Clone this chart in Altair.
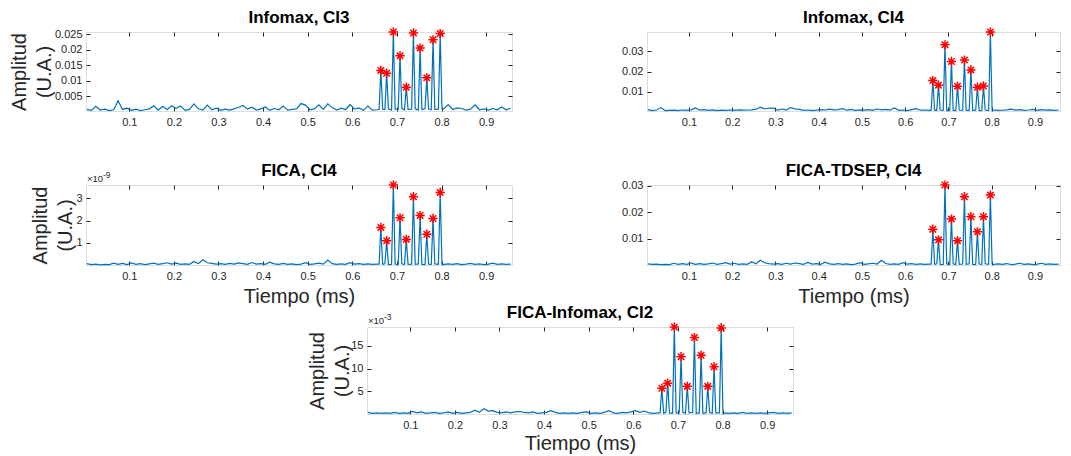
import altair as alt
import pandas as pd

FONT = "Liberation Sans"
BLUE = "#0072BD"
RED = "#FF0000"
AXC = "#262626"
STAR = "M-1,0L1,0M0,-1L0,1M-0.7,-0.7L0.7,0.7M-0.7,0.7L0.7,-0.7"

X_DOMAIN = [0.003, 0.958]
X_TICKS = [0.1, 0.2, 0.3, 0.4, 0.5, 0.6, 0.7, 0.8, 0.9]

# sampling instants of the background (outside the burst), ms
T_NOISE = [0.005, 0.015, 0.025, 0.035, 0.045, 0.055, 0.065, 0.075, 0.085, 0.095,
           0.105, 0.115, 0.125, 0.135, 0.145, 0.155, 0.165, 0.175, 0.185, 0.195,
           0.205, 0.215, 0.225, 0.235, 0.245, 0.255, 0.265, 0.275, 0.285, 0.295,
           0.305, 0.315, 0.325, 0.335, 0.345, 0.355, 0.365, 0.375, 0.385, 0.395,
           0.405, 0.415, 0.425, 0.435, 0.445, 0.455, 0.465, 0.475, 0.485, 0.495,
           0.505, 0.515, 0.525, 0.535, 0.545, 0.555, 0.565, 0.575, 0.585, 0.595,
           0.605, 0.615, 0.625, 0.635, 0.645, 0.655,
           0.805, 0.815, 0.825, 0.835, 0.845, 0.855, 0.865, 0.875, 0.885, 0.895,
           0.905, 0.915, 0.925, 0.935, 0.945, 0.955]
# valleys around each burst peak, ms
T_VALLEY = [0.660, 0.668, 0.673, 0.681, 0.688, 0.696, 0.703, 0.711, 0.717, 0.725,
            0.733, 0.741, 0.748, 0.756, 0.763, 0.771, 0.777, 0.785, 0.793, 0.801]
# detected peaks, ms
T_PEAK = [0.664, 0.677, 0.692, 0.707, 0.721, 0.737, 0.752, 0.767, 0.781, 0.797]

# ---- Infomax, CI3 (values x1e-3) ----
P1_NOISE = [0.8, 0.5, 1.8, 0.6, 0.9, 0.4, 0.7, 3.6, 0.8, 1.2,
            0.5, 0.9, 0.4, 0.7, 1.0, 2.0, 0.6, 1.8, 0.7, 2.0,
            1.2, 1.9, 0.5, 0.8, 2.6, 1.0, 0.6, 2.2, 0.7, 1.2,
            0.5, 0.9, 0.6, 1.0, 1.5, 2.1, 0.9, 1.5, 0.6, 1.0,
            1.6, 0.5, 1.1, 0.7, 1.9, 0.6, 0.8, 1.0, 2.7, 2.2,
            0.7, 1.0, 2.3, 0.8, 2.6, 1.4, 0.6, 1.2, 0.7, 2.4,
            0.9, 1.3, 0.5, 1.9, 0.6, 0.7,
            1.0, 2.4, 0.8, 1.3, 1.1, 0.6, 0.9, 2.3, 0.7, 1.0,
            0.6, 1.1, 0.7, 1.6, 0.7, 1.2]
P1_VALLEY = [0.8, 0.9, 0.7, 1.0, 0.6, 0.9, 0.8, 1.1, 0.7, 0.8,
             0.9, 1.0, 0.6, 0.8, 1.0, 0.9, 0.7, 0.8, 0.9, 1.2]
P1_PEAK = [13.4, 12.5, 25.8, 18.1, 8.0, 25.5, 20.6, 11.0, 23.3, 25.3]

# ---- Infomax, CI4 (values x1e-3) ----
P2_NOISE = [1.0, 0.5, 0.8, 2.0, 0.5, 0.6, 0.7, 0.5, 0.8, 0.6,
            0.9, 1.8, 0.7, 1.0, 0.6, 0.9, 0.5, 0.7, 0.6, 0.8,
            0.6, 0.9, 0.7, 0.8, 0.9, 1.2, 2.2, 1.3, 1.8, 1.7,
            0.7, 1.3, 0.8, 2.0, 1.4, 1.1, 0.6, 0.8, 0.5, 0.7,
            1.0, 0.8, 1.2, 0.9, 1.0, 1.5, 0.7, 1.1, 0.6, 0.9,
            0.7, 1.0, 0.6, 1.3, 0.9, 1.1, 0.7, 1.8, 0.6, 0.8,
            0.5, 1.0, 1.5, 0.7, 0.8, 0.6,
            0.8, 0.6, 0.7, 0.9, 1.2, 0.7, 1.0, 0.6, 0.8, 1.1,
            0.6, 1.0, 0.7, 0.9, 0.6, 0.8]
P2_VALLEY = [0.6, 0.7, 0.5, 0.8, 0.6, 0.5, 0.7, 0.6, 0.5, 0.8,
             0.6, 0.7, 0.5, 0.6, 0.7, 0.5, 0.6, 0.8, 0.5, 0.7]
P2_PEAK = [15.5, 13.2, 33.3, 25.0, 12.7, 25.7, 20.8, 12.2, 12.8, 39.7]

# ---- FICA, CI4 (values x1e-9) ----
P3_NOISE = [0.08, 0.04, 0.06, 0.03, 0.05, 0.04, 0.10, 0.05, 0.09, 0.04,
            0.11, 0.05, 0.08, 0.04, 0.07, 0.10, 0.05, 0.08, 0.12, 0.06,
            0.10, 0.05, 0.07, 0.05, 0.18, 0.08, 0.25, 0.12, 0.09, 0.06,
            0.08, 0.05, 0.09, 0.06, 0.11, 0.08, 0.05, 0.13, 0.06, 0.08,
            0.05, 0.15, 0.07, 0.05, 0.09, 0.05, 0.07, 0.04, 0.06, 0.12,
            0.05, 0.07, 0.10, 0.06, 0.24, 0.08, 0.05, 0.07, 0.05, 0.12,
            0.06, 0.08, 0.05, 0.07, 0.05, 0.06,
            0.05, 0.07, 0.05, 0.08, 0.04, 0.06, 0.09, 0.05, 0.07, 0.04,
            0.06, 0.10, 0.05, 0.07, 0.05, 0.06]
P3_VALLEY = [0.06, 0.05, 0.07, 0.04, 0.05, 0.06, 0.05, 0.07, 0.04, 0.05,
             0.06, 0.05, 0.07, 0.05, 0.04, 0.06, 0.05, 0.07, 0.05, 0.06]
P3_PEAK = [1.69, 1.10, 3.58, 2.12, 1.16, 3.06, 2.22, 1.39, 2.09, 3.25]

# ---- FICA-TDSEP, CI4 (values x1e-3) ----
P4_NOISE = [0.6, 0.4, 0.5, 0.3, 0.4, 0.3, 0.8, 0.4, 0.7, 0.4,
            0.9, 0.4, 0.7, 0.4, 0.6, 0.9, 0.4, 0.7, 1.0, 0.5,
            0.8, 0.4, 0.6, 0.4, 1.4, 0.6, 1.9, 1.0, 0.7, 0.5,
            0.7, 0.4, 0.8, 0.5, 0.9, 0.7, 0.4, 1.1, 0.5, 0.7,
            0.4, 1.2, 0.6, 0.4, 0.7, 0.4, 0.6, 0.3, 0.5, 1.0,
            0.4, 0.6, 0.8, 0.5, 1.9, 0.7, 0.4, 0.6, 0.4, 1.0,
            0.5, 0.7, 0.4, 0.6, 0.4, 0.5,
            0.4, 0.6, 0.4, 0.7, 0.3, 0.5, 0.8, 0.4, 0.6, 0.3,
            0.5, 0.8, 0.4, 0.6, 0.4, 0.5]
P4_VALLEY = [0.5, 0.4, 0.6, 0.3, 0.4, 0.5, 0.4, 0.6, 0.3, 0.4,
             0.5, 0.4, 0.6, 0.4, 0.3, 0.5, 0.4, 0.6, 0.4, 0.5]
P4_PEAK = [13.6, 9.6, 30.2, 17.4, 9.3, 25.8, 18.3, 12.6, 18.3, 26.4]

# ---- FICA-Infomax, CI2 (values x1e-3) ----
P5_NOISE = [0.4, 0.2, 0.3, 0.2, 0.3, 0.2, 0.4, 0.2, 0.3, 0.2,
            0.6, 0.3, 0.5, 0.2, 0.3, 0.4, 0.2, 0.3, 0.5, 0.2,
            0.4, 0.2, 0.3, 0.4, 0.9, 0.4, 1.2, 0.7, 0.8, 0.4,
            0.3, 0.5, 0.3, 0.5, 0.6, 0.4, 0.3, 0.5, 0.2, 0.3,
            0.4, 0.8, 0.4, 0.2, 0.3, 0.2, 0.3, 0.2, 0.4, 0.5,
            0.2, 0.3, 0.2, 0.4, 0.8, 0.3, 0.2, 0.4, 0.3, 0.5,
            0.8, 0.4, 0.7, 0.3, 0.2, 0.3,
            0.3, 0.2, 0.3, 0.2, 0.4, 0.2, 0.3, 0.2, 0.3, 0.2,
            0.3, 0.4, 0.2, 0.3, 0.2, 0.3]
P5_VALLEY = [0.3, 0.2, 0.4, 0.3, 0.2, 0.3, 0.3, 0.4, 0.2, 0.3,
             0.4, 0.2, 0.3, 0.2, 0.3, 0.4, 0.2, 0.3, 0.3, 0.2]
P5_PEAK = [5.7, 6.8, 19.1, 12.6, 6.1, 16.8, 12.9, 6.1, 10.4, 18.9]

Y_TITLE = ["Amplitud", "(U.A.)"]
X_TITLE = "Tiempo (ms)"


def panel(title, noise, valley, peak, unit, ydom, yticks, w, h,
          ytitle_x=None, xtitle=False, xtitle_y=33, reserve=0, expo=None):
    t = T_NOISE + T_VALLEY + T_PEAK
    v = [a * unit for a in noise + valley + peak]
    line_df = pd.DataFrame({"t": t, "v": v}).sort_values("t")
    pk_df = pd.DataFrame({"t": T_PEAK, "v": [a * unit for a in peak]})

    xs = alt.Scale(domain=X_DOMAIN, nice=False, zero=False)
    ys = alt.Scale(domain=ydom, nice=False, zero=False)
    common = dict(offset=-4, tickSize=4, domain=False, grid=False,
                  tickColor=AXC, tickWidth=1, labelFont=FONT,
                  labelFontSize=11, labelColor=AXC)

    xb = dict(orient="bottom", values=X_TICKS, format="~g", labelPadding=5, **common)
    if xtitle:
        xb.update(title=X_TITLE, titleFont=FONT, titleFontSize=20,
                  titleFontWeight="normal", titleColor=AXC,
                  titleBaseline="middle", titleY=xtitle_y)
    else:
        xb.update(title=None)

    yl = dict(orient="left", values=yticks, format="~g", labelPadding=4, **common)
    if ytitle_x is not None:
        yl.update(title=Y_TITLE, titleFont=FONT, titleFontSize=20,
                  titleFontWeight="normal", titleColor=AXC, titleAngle=270,
                  titleAlign="center", titleBaseline="middle",
                  titleLineHeight=25, titleX=ytitle_x, titleY=h / 2)
    else:
        yl.update(title=None)

    line = alt.Chart(line_df).mark_line(color=BLUE, strokeWidth=1.2).encode(
        x=alt.X("t:Q", scale=xs, axis=alt.Axis(**xb)),
        y=alt.Y("v:Q", scale=ys, axis=alt.Axis(**yl)),
    )
    stars = alt.Chart(pk_df).mark_point(
        shape=STAR, size=85, color=RED, filled=False, strokeWidth=1.5, opacity=1
    ).encode(
        x=alt.X("t:Q", scale=xs, axis=alt.Axis(orient="top", values=X_TICKS,
                                                labels=False, title=None, **common)),
        y=alt.Y("v:Q", scale=ys, axis=alt.Axis(orient="right", values=yticks,
                                                labels=False, title=None, **common)),
    )
    ttl = alt.Chart(pd.DataFrame({"s": [title]})).mark_text(
        align="center", baseline="middle", font=FONT, fontSize=17,
        fontWeight="bold", color="#000000"
    ).encode(text="s:N", x=alt.value(w / 2), y=alt.value(-14))
    layers = [line, stars, ttl]
    if reserve:
        # invisible layout spacer below the panel (keeps the row gap)
        gap = alt.Chart(pd.DataFrame({"s": [0]})).mark_rule(opacity=0).encode(
            x=alt.value(0), y=alt.value(h), y2=alt.value(h + reserve))
        layers.append(gap)
    if expo:
        e1 = alt.Chart(pd.DataFrame({"s": ["×10"]})).mark_text(
            align="left", baseline="middle", font=FONT, fontSize=9.5, color=AXC
        ).encode(text="s:N", x=alt.value(1), y=alt.value(-6))
        e2 = alt.Chart(pd.DataFrame({"s": [expo]})).mark_text(
            align="left", baseline="middle", font=FONT, fontSize=8.5, color=AXC
        ).encode(text="s:N", x=alt.value(17), y=alt.value(-10))
        layers += [e1, e2]
    return alt.layer(*layers).resolve_axis(x="independent", y="independent").properties(
        width=w, height=h)


p1 = panel("Infomax, CI3", P1_NOISE, P1_VALLEY, P1_PEAK, 1e-3, [0.0003, 0.0258],
           [0.005, 0.01, 0.015, 0.02, 0.025], 426, 79, ytitle_x=-71, reserve=53)
p2 = panel("Infomax, CI4", P2_NOISE, P2_VALLEY, P2_PEAK, 1e-3, [0.0003, 0.0397],
           [0.01, 0.02, 0.03], 413, 79, reserve=53)
p3 = panel("FICA, CI4", P3_NOISE, P3_VALLEY, P3_PEAK, 1, [0.02, 3.58],
           [1, 2, 3], 426, 80, ytitle_x=-50, xtitle=True, xtitle_y=35, expo="-9")
p4 = panel("FICA-TDSEP, CI4", P4_NOISE, P4_VALLEY, P4_PEAK, 1e-3, [0.00015, 0.0302],
           [0.01, 0.02, 0.03], 413, 80, xtitle=True, xtitle_y=35)
p5 = panel("FICA-Infomax, CI2", P5_NOISE, P5_VALLEY, P5_PEAK, 1, [0.05, 19.1],
           [5, 10, 15], 426, 87, ytitle_x=-54, xtitle=True, xtitle_y=33, expo="-3")

spacer = alt.Chart(pd.DataFrame({"a": [0]})).mark_point(opacity=0).encode(
    x=alt.X("a:Q", axis=None, scale=alt.Scale(domain=[0, 1])),
    y=alt.Y("a:Q", axis=None, scale=alt.Scale(domain=[0, 1])),
).properties(width=281, height=87, view=alt.ViewBackground(strokeOpacity=0))

row1 = alt.hconcat(p1, p2, spacing=135, bounds="flush")
row2 = alt.hconcat(p3, p4, spacing=135, bounds="flush")
row3 = alt.hconcat(spacer, p5, spacing=0, bounds="flush")

chart = alt.vconcat(row1, row2, row3, spacing=-4).properties(
    padding={"left": 0, "top": 0, "right": 0, "bottom": 0}
).configure_view(stroke=AXC, strokeWidth=1).configure(font=FONT)

chart.save("out.html", embed_options={"renderer": "svg", "actions": False})
